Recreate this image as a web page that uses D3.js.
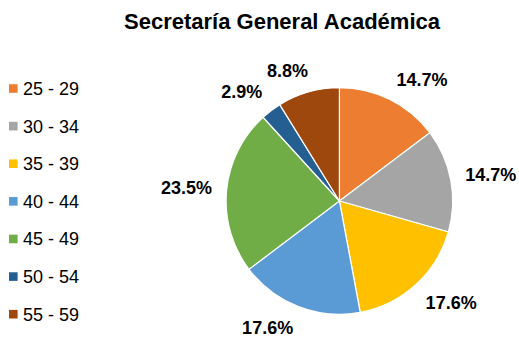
<!DOCTYPE html>
<html>
<head>
<meta charset="utf-8">
<script src="https://cdn.jsdelivr.net/npm/d3@7"></script>
<style>
  html, body { margin: 0; padding: 0; background: #fff; }
  svg { display: block; font-family: "Liberation Sans", Arial, sans-serif; }
</style>
</head>
<body>
<svg id="chart" width="519" height="339"></svg>
<script>
const title = "Secretaría General Académica";
const categories = ["25 - 29", "30 - 34", "35 - 39", "40 - 44", "45 - 49", "50 - 54", "55 - 59"];
const counts = [5, 5, 6, 6, 8, 1, 3];
const colors = ["#ED7D31", "#A5A5A5", "#FFC000", "#5B9BD5", "#70AD47", "#255E91", "#9E480E"];

const W = 519, H = 339;
const cx = 339.4, cy = 201, r = 113.3;
const svg = d3.select("#chart");

svg.append("text")
  .attr("x", 282).attr("y", 29)
  .attr("text-anchor", "middle")
  .attr("font-size", 22).attr("font-weight", "bold").attr("fill", "#000")
  .text(title);

const total = d3.sum(counts);
const data = categories.map((c, i) => ({ cat: c, value: counts[i], color: colors[i] }));
const pie = d3.pie().sort(null).value(d => d.value);
const arcs = pie(data);
const arc = d3.arc().innerRadius(0).outerRadius(r);

const g = svg.append("g").attr("transform", `translate(${cx},${cy})`);
g.selectAll("path").data(arcs).join("path")
  .attr("d", arc)
  .attr("fill", d => d.data.color)
  .attr("stroke", "#fff").attr("stroke-width", 1.2);

const fmt = v => (v / total * 100).toFixed(1) + "%";
const labels = g.selectAll("text.lbl").data(arcs).join("text")
  .attr("class", "lbl")
  .attr("text-anchor", "middle")
  .attr("dy", "0.36em")
  .attr("font-size", 18).attr("font-weight", "bold").attr("fill", "#000")
  .text(d => fmt(d.data.value));

const d0 = 128, clamp = v => Math.max(-1, Math.min(1, v));
labels.each(function(d) {
  const a = (d.startAngle + d.endAngle) / 2;
  const bb = this.getBBox();
  const s = Math.sin(a), c = Math.cos(a);
  const x = d0 * s + bb.width / 2 * clamp(3 * s);
  const y = -d0 * c - 7 * clamp(2 * c);
  d3.select(this).attr("x", x).attr("y", y);
});

const ly = d3.scalePoint().domain(categories).range([88.5, 314.2]);
const leg = svg.append("g");
leg.selectAll("rect").data(data).join("rect")
  .attr("x", 9).attr("y", d => ly(d.cat) - 4.3)
  .attr("width", 8.6).attr("height", 8.6)
  .attr("fill", d => d.color);
leg.selectAll("text").data(data).join("text")
  .attr("x", 23).attr("y", d => ly(d.cat) + 6.5)
  .attr("font-size", 18).attr("fill", "#000")
  .text(d => d.cat);
</script>
</body>
</html>
